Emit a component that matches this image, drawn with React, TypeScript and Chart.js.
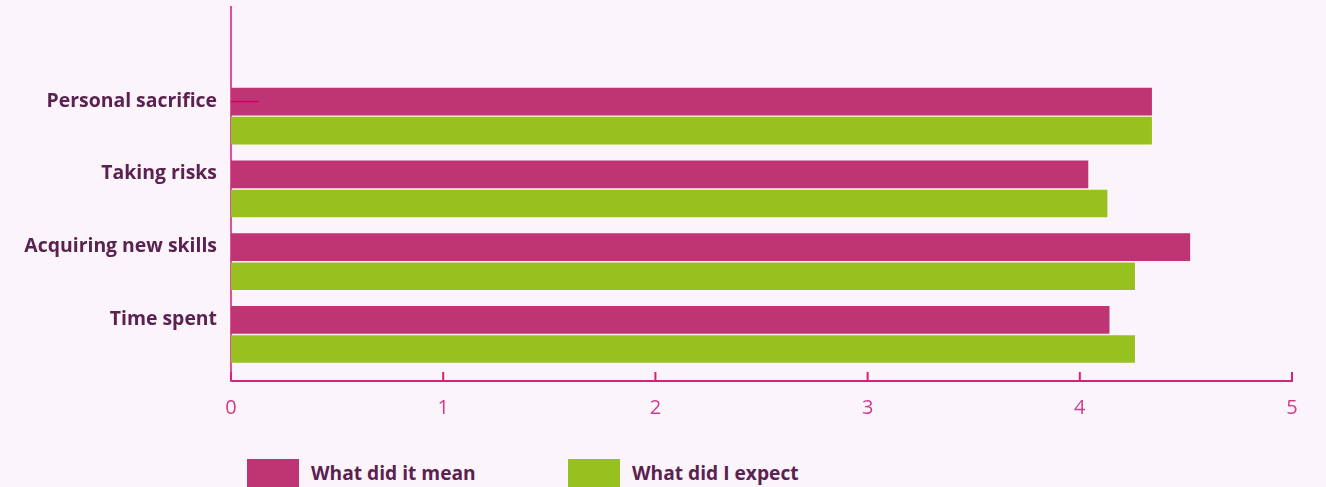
import React, { useEffect, useRef } from "react";
import { Chart, registerables } from "chart.js";

Chart.register(...registerables);

const categories = ["Personal sacrifice", "Taking risks", "Acquiring new skills", "Time spent"];
const meanValues = [4.34, 4.04, 4.52, 4.14];
const expectValues = [4.34, 4.13, 4.26, 4.26];
const xTicks = [0, 1, 2, 3, 4, 5];
const seriesNames = ["What did it mean", "What did I expect"];

const PINK = "#bf3574";
const GREEN = "#96c11f";
const BG = "#fbf4fa";
const TEXT = "#5b2150";
const AXIS = "#d1247a";
const TICK = "#cf3c8c";

const innerTicks = {
  id: "innerTicks",
  afterDraw(chart: any) {
    const { ctx, chartArea, scales } = chart;
    const x = scales.x;
    ctx.save();
    ctx.strokeStyle = AXIS;
    ctx.lineWidth = 2;
    x.ticks.forEach((t: any) => {
      const px = x.getPixelForValue(t.value);
      ctx.beginPath();
      ctx.moveTo(px, chartArea.bottom - 9);
      ctx.lineTo(px, chartArea.bottom);
      ctx.stroke();
    });
    // small stray stroke on the first pink bar, as in the reference
    const bar = chart.getDatasetMeta(0).data[0];
    if (bar) {
      ctx.strokeStyle = "#d3006a";
      ctx.lineWidth = 1.5;
      ctx.beginPath();
      ctx.moveTo(x.getPixelForValue(0), bar.y);
      ctx.lineTo(x.getPixelForValue(0.13), bar.y);
      ctx.stroke();
    }
    ctx.restore();
  },
};

export default function App() {
  const ref = useRef<HTMLCanvasElement>(null);
  useEffect(() => {
    document.body.style.margin = "0";
    document.body.style.background = BG;
    const toPts = (vals: number[]) => vals.map((v, i) => ({ x: v, y: i + 1 }));
    const chart = new Chart(ref.current!, {
      type: "bar",
      data: {
        datasets: [
          { label: seriesNames[0], data: toPts(meanValues), backgroundColor: PINK, categoryPercentage: 0.8, barPercentage: 0.95 },
          { label: seriesNames[1], data: toPts(expectValues), backgroundColor: GREEN, categoryPercentage: 0.8, barPercentage: 0.95 },
        ],
      },
      options: {
        indexAxis: "y",
        animation: false,
        responsive: true,
        maintainAspectRatio: false,
        layout: { padding: { top: 7, right: 34, left: 0, bottom: 0 } },
        plugins: { legend: { display: false }, tooltip: { enabled: false } },
        scales: {
          x: {
            type: "linear",
            min: 0,
            max: 5,
            afterBuildTicks: (s: any) => {
              s.ticks = xTicks.map((v) => ({ value: v }));
            },
            grid: { display: false, drawTicks: false },
            border: { display: true, color: AXIS, width: 2 },
            ticks: {
              color: TICK,
              padding: 15,
              font: { family: "'Open Sans'", size: 20, weight: 400 as any },
            },
            afterFit: (s: any) => {
              s.height = 49;
              s.paddingLeft = 0;
              s.paddingRight = 0;
            },
          },
          y: {
            type: "linear",
            reverse: true,
            min: -0.5,
            max: 4.64,
            offset: false,
            afterBuildTicks: (s: any) => {
              s.ticks = categories.map((_, i) => ({ value: i + 1 }));
            },
            grid: { display: false, drawTicks: false },
            border: { display: true, color: "#e0509a", width: 2 },
            ticks: {
              color: TEXT,
              padding: 14,
              labelOffset: -15,
              callback: (v: any) => categories[Math.round(Number(v)) - 1] ?? "",
              font: { family: "'Open Sans'", size: 19.4, weight: "bold" },
            },
            afterFit: (s: any) => {
              s.width = 231;
              s.paddingTop = 0;
              s.paddingBottom = 0;
            },
          },
        },
      },
      plugins: [innerTicks],
    });
    return () => chart.destroy();
  }, []);

  const legendColors = [PINK, GREEN];
  return (
    <div style={{ position: "relative", width: 1326, height: 487, background: BG, overflow: "hidden" }}>
      <div style={{ position: "absolute", left: 0, top: 0, width: 1326, height: 430 }}>
        <canvas ref={ref} />
      </div>
      <div style={{ position: "absolute", left: 247, top: 459, display: "flex" }}>
        {seriesNames.map((n, i) => (
          <div key={n} style={{ display: "flex", alignItems: "flex-start", width: 321 }}>
            <div style={{ width: 52, height: 34, background: legendColors[i] }} />
            <span
              style={{
                marginLeft: 12,
                fontFamily: "'Open Sans'",
                fontWeight: 700,
                fontSize: 19.2,
                color: TEXT,
                lineHeight: "28px",
              }}
            >
              {n}
            </span>
          </div>
        ))}
      </div>
    </div>
  );
}
